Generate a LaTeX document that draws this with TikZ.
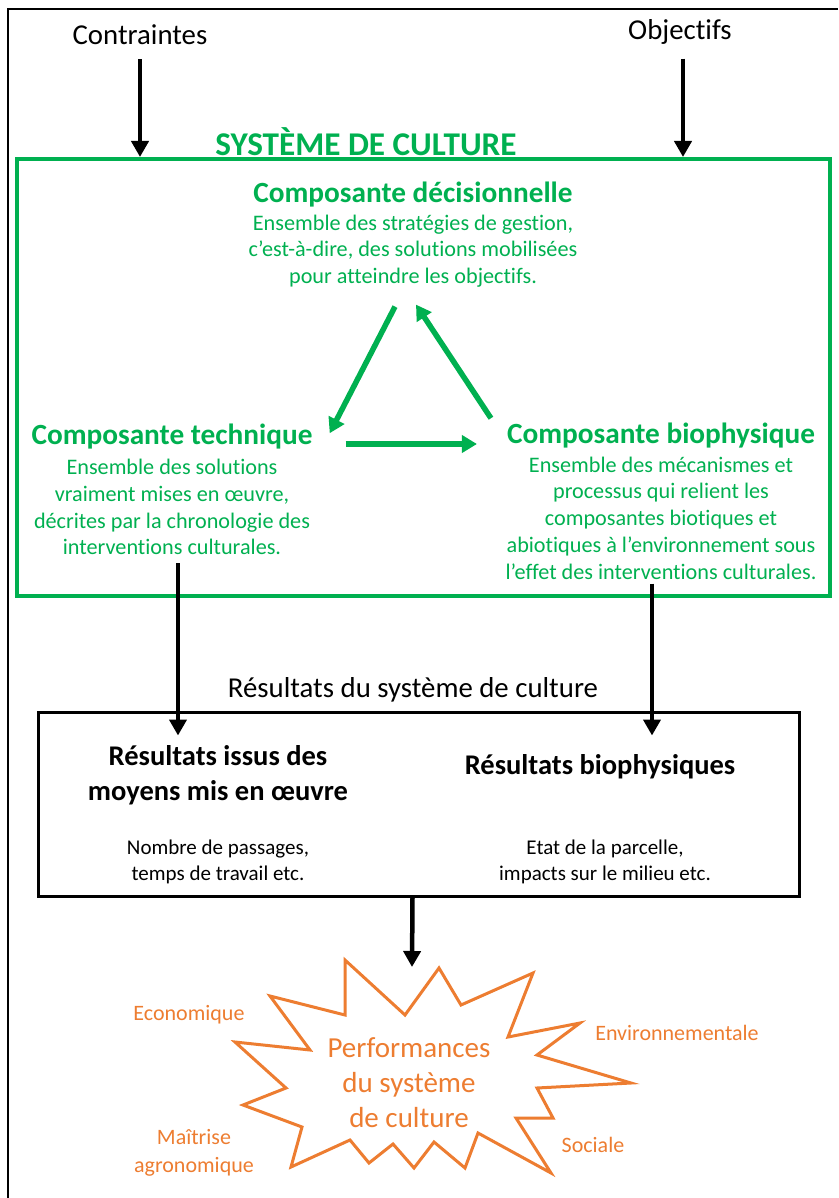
\documentclass[tikz,border=0pt]{standalone}
\usepackage{fontspec}
\setmainfont{Carlito}[Ligatures=NoCommon]
\usetikzlibrary{arrows.meta,positioning}
\definecolor{sysgreen}{HTML}{00B050}
\definecolor{perforange}{HTML}{ED7D31}

\begin{document}
\begin{tikzpicture}[
  x=1pt, y=-1pt,
  every node/.style={inner sep=2pt, align=center},
  plain/.style={font=\fontsize{28.8}{34}\selectfont},
  gtitle/.style={text=sysgreen, font=\fontsize{29.3}{35}\selectfont\bfseries},
  gtext/.style={text=sysgreen, font=\fontsize{22.2}{26.8}\selectfont},
  rtitle/.style={font=\fontsize{28.5}{35}\selectfont\bfseries},
  rtext/.style={font=\fontsize{21}{26}\selectfont},
  olabel/.style={text=perforange, font=\fontsize{22}{28}\selectfont},
  sysbox/.style={draw=sysgreen, line width=4pt, minimum width=813pt, minimum height=437pt},
  resbox/.style={draw, line width=3pt, minimum width=761pt, minimum height=184pt},
  blk/.style={-{Triangle[width=17pt,length=16pt]}, line width=4.5pt},
  grn/.style={-{Triangle[width=17pt,length=15pt]}, line width=5.5pt, draw=sysgreen},
  node distance=56pt
]
\useasboundingbox (0,0) rectangle (838,1198);
\draw[line width=2pt] (8,1198) |- (838,9);

% inputs
\node[plain] (cont) at (140,35) {Contraintes};
\node[plain] (obj) at (680,32) {Objectifs};

% cropping system
\node[sysbox] (sys) at (423.5,377.5) {};
\node[text=sysgreen, font=\fontsize{33.2}{39}\selectfont\bfseries] (systitle) at (366,142) {SYSTÈME DE CULTURE};

\node[gtitle] (dec) at (413,195) {Composante décisionnelle};
\node[gtext, below of=dec] (dectxt) {Ensemble des stratégies de gestion,\\c’est-à-dire, des solutions mobilisées\\pour atteindre les objectifs.};
\node[gtitle] (tech) at (172,437) {Composante technique};
\node[gtext, below of=tech, node distance=70pt] (techtxt) {Ensemble des solutions\\vraiment mises en œuvre,\\décrites par la chronologie des\\interventions culturales.};
\node[gtitle] (bio) at (661,436) {Composante biophysique};
\node[gtext, below of=bio, node distance=82pt] (biotxt) {Ensemble des mécanismes et\\processus qui relient les\\composantes biotiques et\\abiotiques à l’environnement sous\\l’effet des interventions culturales.};

% results
\node[plain] (reshead) at (413,690) {Résultats du système de culture};
\node[resbox] (res) at (418.5,804) {};
\node[rtitle] (res1) at (218,775) {Résultats issus des\\moyens mis en œuvre};
\node[rtext, below of=res1, node distance=87pt] (res1txt) {Nombre de passages,\\temps de travail etc.};
\node[rtitle] (res2) at (600,767) {Résultats biophysiques};
\node[rtext, below of=res2, node distance=95pt, xshift=5pt] (res2txt) {Etat de la parcelle,\\impacts sur le milieu etc.};

% performances
\draw[draw=perforange, line width=3pt, fill=white, line join=miter]
  (345,960) -- (405,1015) -- (439,968) -- (461,1005) -- (533,973) -- (508,1037)
  -- (580,1023) -- (537,1055) -- (631,1083) -- (537,1088) -- (553,1118) -- (516,1118)
  -- (551,1173) -- (478,1133) -- (465,1168) -- (434,1142) -- (414,1168) -- (393,1144)
  -- (369,1163) -- (350,1140) -- (291,1167) -- (302,1127) -- (243,1105) -- (286,1088)
  -- (235,1042) -- (310,1050) -- (270,996) -- (345,1015) -- cycle;
\coordinate (burst) at (412,967);
\node[text=perforange, font=\fontsize{29}{35}\selectfont] (perf) at (409,1083) {Performances\\du système\\de culture};
\node[olabel] (eco) at (189,1015) {Economique};
\node[olabel] (env) at (677,1033) {Environnementale};
\node[olabel] (agro) at (194,1153) {Maîtrise\\agronomique};
\node[olabel] (soc) at (593,1145) {Sociale};

% connectors
\draw[blk] ([yshift=-12pt]cont.south) -- (cont.south |- sys.north);
\draw[blk] ([xshift=3pt,yshift=-12pt]obj.south) -- ([xshift=3pt]obj.south |- sys.north);
\draw[grn] ([xshift=-18pt,yshift=-17pt]dectxt.south) -- ([xshift=15pt,yshift=-11pt]tech.north east);
\draw[grn] ([xshift=-14pt,yshift=3pt]bio.north west) -- ([xshift=3pt,yshift=-15pt]dectxt.south);
\draw[grn] ([xshift=31pt,yshift=-7pt]tech.east) -- ([xshift=-28pt,yshift=-8pt]bio.west);
\draw[blk] ([xshift=6pt,yshift=-6pt]techtxt.south) -- ([xshift=6pt,yshift=-25pt]techtxt.south |- res.north);
\draw[blk] ([xshift=-9pt,yshift=-2pt]biotxt.south) -- ([xshift=-9pt,yshift=-25pt]biotxt.south |- res.north);
\draw[blk] ([xshift=-6pt]res.south) -- (burst);
\end{tikzpicture}
\end{document}
